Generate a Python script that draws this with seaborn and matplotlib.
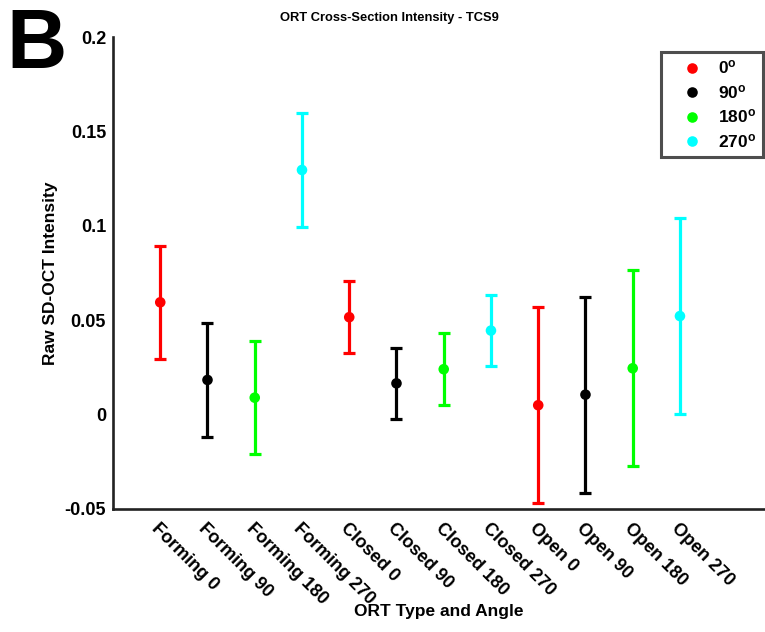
import matplotlib
matplotlib.use("Agg")
import matplotlib.pyplot as plt
import matplotlib.transforms as mtransforms
import seaborn as sns
import pandas as pd
import numpy as np

# ---- data ----
categories = ["Forming 0", "Forming 90", "Forming 180", "Forming 270",
              "Closed 0", "Closed 90", "Closed 180", "Closed 270",
              "Open 0", "Open 90", "Open 180", "Open 270"]
angles = ["0", "90", "180", "270"] * 3
means = [0.0594, 0.0182, 0.0088, 0.1296,
         0.0515, 0.0164, 0.0239, 0.0444,
         0.0048, 0.0104, 0.0244, 0.0521]
errors = [0.030, 0.030, 0.030, 0.030,
          0.019, 0.019, 0.019, 0.019,
          0.052, 0.052, 0.052, 0.052]
angle_order = ["0", "90", "180", "270"]
angle_colors = ["#FF0000", "#000000", "#00FF00", "#00FFFF"]
yticks = [-0.05, 0, 0.05, 0.1, 0.15, 0.2]
ytick_labels = ["-0.05", "0", "0.05", "0.1", "0.15", "0.2"]

sns.set_theme(style="white")
plt.rcParams["font.family"] = ["Liberation Sans", "DejaVu Sans"]
plt.rcParams["mathtext.fontset"] = "custom"
plt.rcParams["mathtext.rm"] = "Liberation Sans:bold"
plt.rcParams["mathtext.bf"] = "Liberation Sans:bold"
plt.rcParams["mathtext.it"] = "Liberation Sans:bold"
for k in ["text.color", "axes.labelcolor", "xtick.color", "ytick.color"]:
    plt.rcParams[k] = "black"

W, H = 765, 632
fig = plt.figure(figsize=(W / 100, H / 100), dpi=100)
ax = fig.add_axes([113 / W, (H - 508.5) / H, (W - 113) / W, (508.5 - 37.3) / H])

df = pd.DataFrame({"pos": np.arange(1, len(categories) + 1), "cat": categories,
                   "angle": angles, "mean": means, "err": errors})
palette = dict(zip(angle_order, angle_colors))

for _, r in df.iterrows():
    ax.errorbar(r["pos"], r["mean"], yerr=r["err"], fmt="none",
                ecolor=palette[r["angle"]], elinewidth=2.3, capsize=4.6,
                capthick=2.3, zorder=2)

sns.scatterplot(data=df, x="pos", y="mean", hue="angle", hue_order=angle_order,
                palette=palette, marker="o", s=58, edgecolor="none", ax=ax,
                zorder=3, legend=True)

ax.set_xlim(0, 13.8)
ax.set_ylim(-0.05, 0.2)
ax.set_yticks(yticks)
ax.set_yticklabels(ytick_labels, fontsize=13, fontweight="bold")
ax.set_xticks(df["pos"])
ax.set_xticklabels([""] * len(categories))

# rotated category labels, anchored a little left of each tick
lab_trans = (mtransforms.blended_transform_factory(ax.transData, ax.transAxes)
             + mtransforms.ScaledTranslation(-6 / 100, -17 / 100, fig.dpi_scale_trans))
for p, c in zip(df["pos"], df["cat"]):
    ax.text(p, 0, c, transform=lab_trans, fontsize=13, fontweight="bold",
            rotation=-45, rotation_mode="anchor", ha="left", va="center",
            clip_on=False)

for s in ["top", "right"]:
    ax.spines[s].set_visible(False)
for s in ["left", "bottom"]:
    ax.spines[s].set_linewidth(1.9)
    ax.spines[s].set_color("#222222")
ax.tick_params(axis="both", direction="in", length=5, width=1.9, color="#222222")
ax.tick_params(axis="y", pad=5)

ax.set_xlabel("ORT Type and Angle", fontsize=12.5, fontweight="bold")
ax.set_ylabel("Raw SD-OCT Intensity", fontsize=12.5, fontweight="bold")
ax.yaxis.set_label_coords((58 - 113) / (W - 113), 0.5)
ax.xaxis.set_label_coords(0.5, -(604 - 508.5) / (508.5 - 37.3))

fig.text(389.5 / W, 1 - 18 / H, "ORT Cross-Section Intensity - TCS9",
         ha="center", va="center", fontsize=9.3, fontweight="bold")
fig.text(6 / W, 1 - 7 / H, "B", ha="left", va="top", fontsize=60, fontweight="bold")

handles, labels = ax.get_legend_handles_labels()
new_labels = [r"$\mathbf{%s^o}$" % l for l in labels]
leg = ax.legend(handles, new_labels, loc="upper right",
                bbox_to_anchor=(763 / W, 1 - 52 / H), bbox_transform=fig.transFigure,
                frameon=True, fancybox=False, edgecolor="#222222", fontsize=12.5,
                handletextpad=0.15, labelspacing=0.38, borderpad=0.38,
                borderaxespad=0, markerscale=1.0, handlelength=2.75)
leg.get_frame().set_linewidth(2.2)

fig.savefig("out.png", dpi=100)
